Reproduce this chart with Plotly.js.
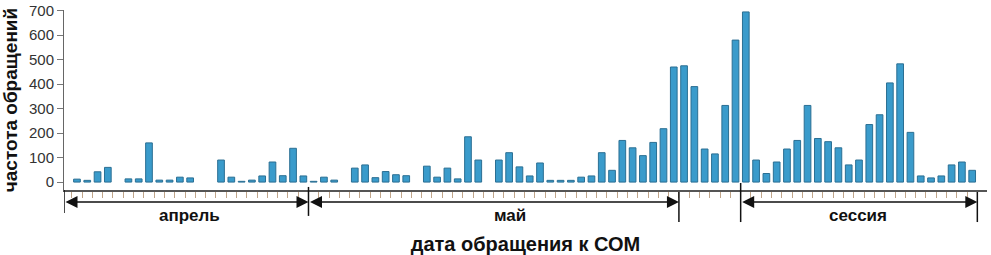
<!DOCTYPE html>
<html>
<head>
<meta charset="utf-8">
<script src="https://cdn.plot.ly/plotly-3.0.1.min.js"></script>
<style>html,body{margin:0;padding:0;background:#fff;}#chart{width:991px;height:255px;}</style>
</head>
<body>
<div id="chart"></div>
<script>
// day index along the x axis (one bar slot per day)
const days = Array.from({length: 88}, (_, i) => i);
// number of requests per day (null = no bar)
const counts = [12,7,42,60,null,13,13,160,8,8,20,17,null,null,90,20,3,8,25,82,26,138,25,3,20,8,null,57,70,18,43,30,26,null,65,20,57,13,185,90,null,90,120,62,25,78,7,7,7,20,25,120,48,170,140,108,162,218,470,475,390,135,115,313,580,695,90,35,82,135,170,313,178,165,140,70,90,235,275,405,483,203,25,17,25,70,82,48];
// periods marked under the axis
const periodLabels = ["апрель", "май", "сессия"];
const periodStarts = [-1.26, 22.5, 64.5];
const periodEnds = [22.5, 58.5, 87.5];
const periodLabelAt = [10.9, 42.1, 75.9];
// y axis ticks
const yTickVals = [0, 100, 200, 300, 400, 500, 600, 700];
const yTickText = ["0", "100", "200", "300", "400", "500", "600", "700"];
// x minor tick positions (day boundaries)
const xTickVals = Array.from({length: 89}, (_, i) => i - 0.5);

const FONT = "Liberation Sans, Arial, sans-serif";

const trace = {
  type: "bar",
  x: days,
  y: counts,
  width: 0.65,
  marker: {color: "#3a9bcb", line: {color: "#2b6f93", width: 1}},
  hoverinfo: "x+y"
};

const shapes = [];
const annotations = [];
const boundaryTop = {"-1.26": -0.0, "22.5": 0.017, "58.5": -0.011, "64.5": 0.039, "87.5": -0.011};
const boundaryBot = {"-1.26": -0.128, "22.5": -0.144, "58.5": -0.178, "64.5": -0.178, "87.5": -0.178};
const boundaries = [];
periodStarts.forEach((s, i) => { boundaries.push(s); boundaries.push(periodEnds[i]); });
[...new Set(boundaries)].forEach(b => {
  shapes.push({type: "line", xref: "x", yref: "paper", x0: b, x1: b,
    y0: boundaryTop[String(b)], y1: boundaryBot[String(b)],
    line: {color: "#111", width: 1.5}});
});
periodLabels.forEach((lab, i) => {
  annotations.push({
    xref: "x", yref: "paper", axref: "x", ayref: "pixel",
    x: periodEnds[i], y: -0.067, ax: periodStarts[i], ay: 0,
    showarrow: true, arrowside: "end+start", arrowhead: 2, startarrowhead: 2,
    arrowsize: 1.6, startarrowsize: 1.6, arrowwidth: 1.5, arrowcolor: "#111",
    standoff: 0, startstandoff: 0, text: ""
  });
  annotations.push({
    xref: "x", yref: "paper", x: periodLabelAt[i], y: -0.14,
    xanchor: "center", yanchor: "middle", showarrow: false,
    text: "<b>" + lab + "</b>", font: {family: FONT, size: 17, color: "#111"}
  });
});

const layout = {
  width: 991, height: 255,
  margin: {l: 64, r: 4, t: 10, b: 65},
  paper_bgcolor: "#fff", plot_bgcolor: "#fff",
  showlegend: false,
  bargap: 0.35,
  xaxis: {
    range: [-1.26, 88.44],
    showgrid: false, zeroline: false,
    showline: true, linecolor: "#555", linewidth: 1.5,
    tickmode: "array", tickvals: xTickVals, ticks: "outside", ticklen: 6,
    tickcolor: "#bfa489", tickwidth: 1, showticklabels: false,
    title: {text: "<b>дата обращения к СОМ</b>", font: {family: FONT, size: 20, color: "#111"}, standoff: 46}
  },
  yaxis: {
    range: [-32.4, 702.9],
    showgrid: false, zeroline: false,
    showline: true, linecolor: "#666", linewidth: 1,
    tickmode: "array", tickvals: yTickVals, ticktext: yTickText,
    ticks: "outside", ticklen: 6, tickcolor: "#777",
    tickfont: {family: FONT, size: 15, color: "#333"},
    title: {text: "<b>частота обращений</b>", font: {family: FONT, size: 19, color: "#111"}, standoff: 8}
  },
  shapes: shapes,
  annotations: annotations
};

Plotly.newPlot("chart", [trace], layout, {staticPlot: true, displayModeBar: false});
</script>
</body>
</html>
